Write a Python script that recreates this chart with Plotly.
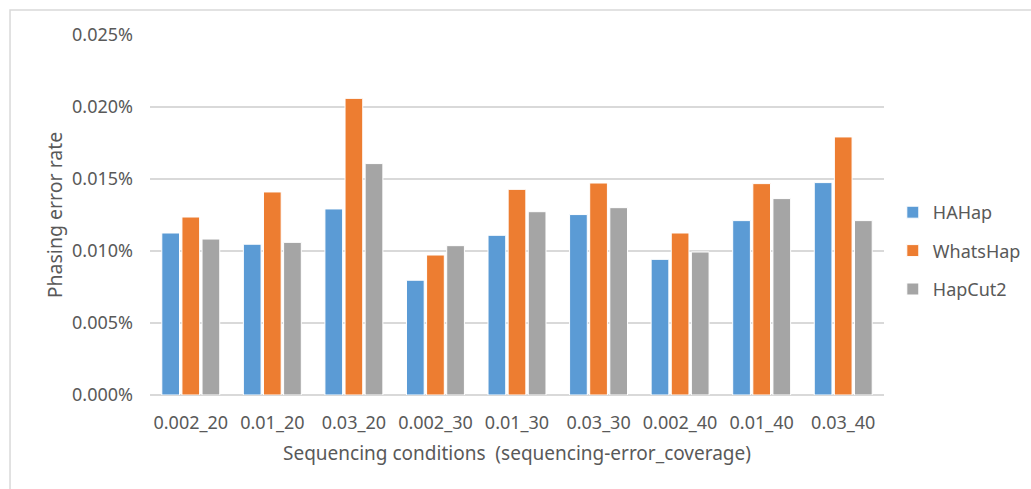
import plotly.graph_objects as go

# Sequencing conditions (error rate _ coverage)
conditions = ["0.002_20", "0.01_20", "0.03_20", "0.002_30", "0.01_30",
              "0.03_30", "0.002_40", "0.01_40", "0.03_40"]

# Phasing error rates (fractions; shown as percentages)
hahap = [0.0001125, 0.0001047, 0.0001292, 0.0000797, 0.0001109,
         0.0001253, 0.0000942, 0.0001211, 0.0001475]
whatshap = [0.0001236, 0.0001410, 0.0002060, 0.0000972, 0.0001428,
            0.0001472, 0.0001125, 0.0001468, 0.0001792]
hapcut2 = [0.0001083, 0.0001060, 0.0001607, 0.0001037, 0.0001273,
           0.0001301, 0.0000993, 0.0001364, 0.0001211]

y_ticks = [0, 0.00005, 0.0001, 0.00015, 0.0002, 0.00025]

series = [
    ("HAHap", hahap, "#5B9BD5"),
    ("WhatsHap", whatshap, "#ED7D31"),
    ("HapCut2", hapcut2, "#A5A5A5"),
]

FONT = "Noto Sans, Open Sans, sans-serif"
TEXT = "#595959"

fig = go.Figure()
for i, (name, vals, color) in enumerate(series):
    fig.add_trace(go.Bar(
        name=name, x=conditions, y=vals,
        marker=dict(color=color, line=dict(color="white", width=1)),
        legendgroup=f"g{i}",
    ))

fig.update_layout(
    width=1031, height=489,
    margin=dict(l=150, r=147, t=35, b=94, autoexpand=False),
    paper_bgcolor="white", plot_bgcolor="white",
    barmode="group", bargap=0.26, bargroupgap=0.12,
    font=dict(family=FONT, color=TEXT, size=18),
    legend=dict(
        x=1.012, xanchor="left", y=0.4, yanchor="middle",
        font=dict(size=18, color=TEXT),
        traceorder="grouped", tracegroupgap=12,
        itemwidth=30,
    ),
    xaxis=dict(
        showgrid=False, showline=False, ticks="",
        tickfont=dict(size=18, color=TEXT),
        ticklabelstandoff=15,
        title=dict(text="Sequencing conditions  (sequencing-error_coverage)",
                   font=dict(size=19, color=TEXT), standoff=13),
    ),
    yaxis=dict(
        range=[0, 0.00025], tickvals=y_ticks, tickformat=".3%",
        showgrid=True, gridcolor="#D9D9D9", gridwidth=1.5,
        zeroline=True, zerolinecolor="#D9D9D9", zerolinewidth=1.5,
        showline=False, ticks="",
        tickfont=dict(size=18, color=TEXT),
        ticklabelstandoff=16,
        title=dict(text="Phasing error rate",
                   font=dict(size=19.5, color=TEXT), standoff=4),
    ),
    shapes=[dict(
        type="rect", xref="paper", yref="paper",
        x0=-0.1907, x1=1.25, y0=-0.30, y1=1.0694,
        line=dict(color="#D9D9D9", width=1.5), layer="below",
    )],
)

fig.write_html("out.html")
